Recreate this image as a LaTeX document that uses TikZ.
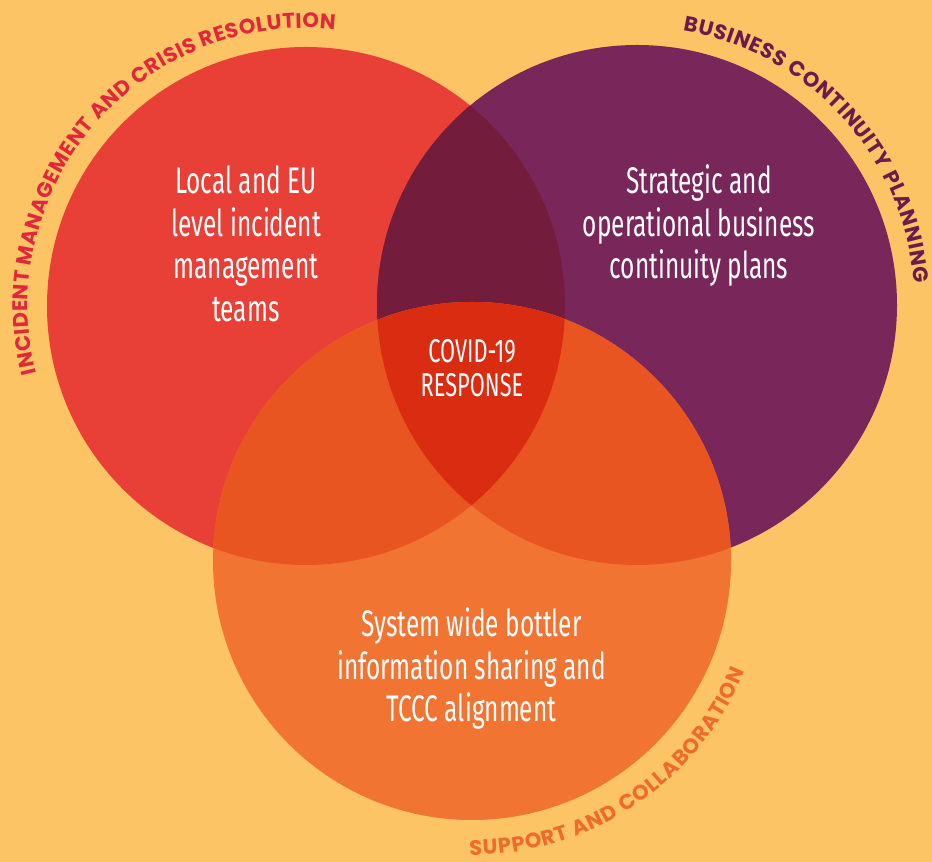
\documentclass[tikz,border=0pt]{standalone}
\usepackage{fontspec}
\usepackage{tikz}
\usetikzlibrary{decorations.text}
\newfontfamily\setfont{Fira Sans}[FakeStretch=0.66]
\newfontfamily\arcfont{Poppins}
\definecolor{sand}{HTML}{FDC466}
\definecolor{setred}{HTML}{E83F37}
\definecolor{setpurple}{HTML}{79265A}
\definecolor{setorange}{HTML}{F27433}
\definecolor{redpurple}{HTML}{731C3B}
\definecolor{warm}{HTML}{E95520}
\definecolor{core}{HTML}{DA2C10}
\definecolor{labred}{HTML}{E1283B}
\definecolor{labpurple}{HTML}{6B1C4C}
\definecolor{laborange}{HTML}{F06A2B}

\begin{document}
\begin{tikzpicture}[x=1pt,y=1pt]
  \tikzstyle{set text}=[text=white,align=center,font=\setfont\fontsize{37}{42.5}\selectfont]
  \tikzstyle{core text}=[text=white,align=center,font=\setfont\fontsize{33}{34}\selectfont]
  \tikzstyle{arc label}=[decorate,decoration={text along path,text align=fit to path}]

  \fill[sand] (0,0) rectangle (932,862);
  \useasboundingbox (0,0) rectangle (932,862);

  \coordinate (incident) at (306,556);
  \coordinate (business) at (637,557);
  \coordinate (support)  at (472,301);

  \fill[setred]    (incident) circle (259pt);
  \fill[setpurple] (business) circle (260pt);
  \fill[setorange] (support)  circle (259pt);

  % overlaps
  \begin{scope}
    \clip (incident) circle (259pt);
    \fill[redpurple] (business) circle (260pt);
    \fill[warm]      (support)  circle (259pt);
  \end{scope}
  \begin{scope}
    \clip (business) circle (260pt);
    \fill[warm] (support) circle (259pt);
    \clip (support) circle (259pt);
    \fill[core] (incident) circle (259pt);
  \end{scope}

  % curved titles
  \path[arc label,decoration={text color=labred,
      text={|\arcfont\bfseries\fontsize{21}{21}\selectfont|INCIDENT MANAGEMENT AND CRISIS RESOLUTION}}]
    ([shift={(194:278pt)}]incident) arc[start angle=194,end angle=84,radius=278pt];
  \path[arc label,decoration={text color=labpurple,
      text={|\arcfont\bfseries\fontsize{21}{21}\selectfont|BUSINESS CONTINUITY PLANNING}}]
    ([shift={(80.5:278pt)}]business) arc[start angle=80.5,end angle=4.5,radius=278pt];
  \path[arc label,decoration={text color=laborange,
      text={|\arcfont\bfseries\fontsize{21}{21}\selectfont|SUPPORT AND COLLABORATION}}]
    ([shift={(-90.5:294pt)}]support) arc[start angle=-90.5,end angle=-22,radius=294pt];

  \node[set text]  (local)     at (246,618)   {Local and EU\\level incident\\management\\teams};
  \node[set text]  (strategic) at (699,636)   {Strategic and\\operational business\\continuity plans};
  \node[set text]  (system)    at (471.5,193) {System wide bottler\\information sharing and\\TCCC alignment};
  \node[core text] (covid)     at (472,493.5) {COVID-19\\RESPONSE};
\end{tikzpicture}
\end{document}
